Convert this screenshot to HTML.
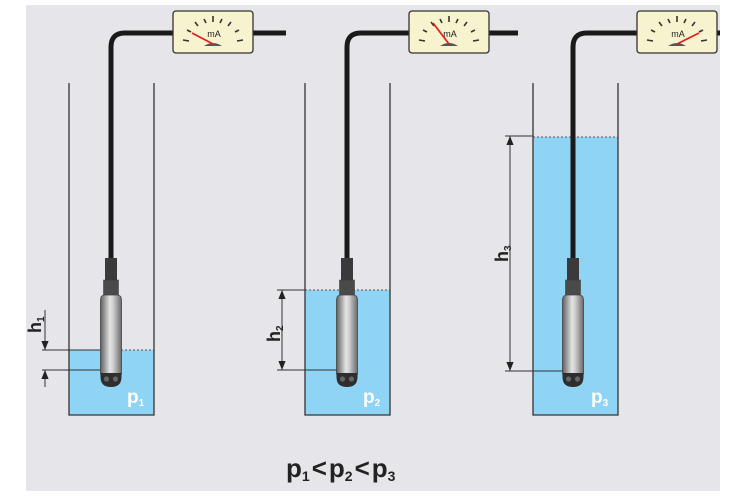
<!DOCTYPE html>
<html><head><meta charset="utf-8"><style>
html,body{margin:0;padding:0;background:#fff;}
svg{display:block;}
text{font-family:"Liberation Sans","DejaVu Sans",sans-serif;}
</style></head><body>
<svg width="750" height="500" viewBox="0 0 750 500" xmlns="http://www.w3.org/2000/svg">
<defs>
<linearGradient id="body" x1="0" x2="1" y1="0" y2="0">
<stop offset="0" stop-color="#5f5f5f"/><stop offset="0.45" stop-color="#e4e4e4"/><stop offset="0.6" stop-color="#cfcfcf"/><stop offset="1" stop-color="#6a6a6a"/>
</linearGradient>
<marker id="ar" viewBox="0 0 10 10" refX="10" refY="5" markerWidth="9" markerHeight="9" orient="auto-start-reverse"><path d="M0,1 L10,5 L0,9 z" fill="#222"/></marker>
<g id="probe">
<rect x="-6" y="258" width="12" height="24" fill="#3a3a3a"/>
<rect x="-7.5" y="280" width="15" height="16" fill="#4a4a4a" stroke="#333" stroke-width="0.5"/>
<path d="M-10.5,300 Q-10.5,295 -6,295 L6,295 Q10.5,295 10.5,300 L10.5,374 L-10.5,374 z" fill="url(#body)" stroke="#444" stroke-width="0.8"/>
<path d="M-10.5,373 L10.5,373 L10.5,377 Q10.5,387 0,387 Q-10.5,387 -10.5,377 z" fill="#2e2e2e"/>
<circle cx="-4.5" cy="379" r="2.6" fill="#666"/><circle cx="4.5" cy="379" r="2.6" fill="#666"/>
</g>
<g id="meterbox">
<rect x="0" y="0" width="80" height="42" rx="3" fill="#f7f3cf" stroke="#333" stroke-width="1.3"/>
<g stroke="#333" stroke-width="1.6">
<line x1="10" y1="29" x2="16" y2="30"/><line x1="14" y1="19" x2="18" y2="21"/><line x1="22" y1="11" x2="25" y2="15"/><line x1="31" y1="8" x2="33" y2="12"/><line x1="40" y1="5" x2="40" y2="11"/><line x1="49" y1="8" x2="47" y2="12"/><line x1="58" y1="11" x2="55" y2="15"/><line x1="66" y1="19" x2="62" y2="21"/><line x1="70" y1="29" x2="64" y2="30"/>
</g>
<text x="41" y="26" font-size="9" text-anchor="middle" fill="#222">mA</text>
<path d="M31,35 Q40,29 49,35 z" fill="#555"/>
</g>
</defs>
<rect x="26" y="5" width="694" height="486" fill="#e6e6ea"/>

<rect x="69" y="350" width="85" height="65" fill="#8fd4f5"/>
<rect x="305" y="290" width="85" height="125" fill="#8fd4f5"/>
<rect x="533" y="137" width="85" height="278" fill="#8fd4f5"/>
<g stroke="#555" stroke-width="1" stroke-dasharray="2,2">
<line x1="69" y1="350" x2="154" y2="350"/><line x1="305" y1="290" x2="390" y2="290"/><line x1="533" y1="137" x2="618" y2="137"/>
</g>

<g fill="none" stroke="#333" stroke-width="1.3">
<path d="M69,83 V415 H154 V83"/>
<path d="M305,83 V415 H390 V83"/>
<path d="M533,83 V415 H618 V83"/>
</g>

<g fill="none" stroke="#1a1a1a" stroke-width="5">
<path d="M111,260 V47 Q111,33 125,33 H175"/><line x1="252" y1="33" x2="286" y2="33"/>
<path d="M347,260 V47 Q347,33 361,33 H411"/><line x1="488" y1="33" x2="518" y2="33"/>
<path d="M573,260 V47 Q573,33 587,33 H640"/><line x1="716" y1="33" x2="720" y2="33"/>
</g>

<use href="#probe" transform="translate(111,0)"/>
<use href="#probe" transform="translate(347,0)"/>
<use href="#probe" transform="translate(573,0)"/>

<g transform="translate(173,11)"><use href="#meterbox"/><line x1="40" y1="33" x2="19" y2="22" stroke="#e02020" stroke-width="1.8"/></g>
<g transform="translate(409,11)"><use href="#meterbox"/><line x1="40" y1="33" x2="24" y2="12" stroke="#e02020" stroke-width="1.8"/></g>
<g transform="translate(637,11)"><use href="#meterbox"/><line x1="40" y1="33" x2="62" y2="22" stroke="#e02020" stroke-width="1.8"/></g>
<rect x="720" y="0" width="30" height="60" fill="#fff"/>

<g stroke="#333" stroke-width="1">
<line x1="42" y1="350" x2="100" y2="350"/><line x1="42" y1="370" x2="100" y2="370"/>
<line x1="45" y1="310" x2="45" y2="350" marker-end="url(#ar)"/><line x1="45" y1="387" x2="45" y2="370" marker-end="url(#ar)"/>
<line x1="277" y1="290" x2="305" y2="290"/><line x1="277" y1="370" x2="337" y2="370"/>
<line x1="282" y1="290" x2="282" y2="370" marker-start="url(#ar)" marker-end="url(#ar)"/>
<line x1="505" y1="136" x2="533" y2="136"/><line x1="505" y1="371" x2="563" y2="371"/>
<line x1="510" y1="136" x2="510" y2="371" marker-start="url(#ar)" marker-end="url(#ar)"/>
</g>
<g font-weight="bold" fill="#222" font-size="18">
<text transform="translate(41,333) rotate(-90)">h<tspan font-size="10" dy="3">1</tspan></text>
<text transform="translate(280,342) rotate(-90)">h<tspan font-size="10" dy="3">2</tspan></text>
<text transform="translate(508,262) rotate(-90)">h<tspan font-size="10" dy="3">3</tspan></text>
</g>
<g font-weight="bold" fill="#fff" font-size="19">
<text x="127" y="403">p<tspan font-size="10" dy="3">1</tspan></text>
<text x="363" y="403">p<tspan font-size="10" dy="3">2</tspan></text>
<text x="591" y="403">p<tspan font-size="10" dy="3">3</tspan></text>
</g>
<text x="286" y="477" font-size="26" font-weight="bold" fill="#222">p<tspan font-size="14" dy="4">1</tspan><tspan dy="-4" dx="2">&lt;</tspan><tspan dx="2">p</tspan><tspan font-size="14" dy="4">2</tspan><tspan dy="-4" dx="2">&lt;</tspan><tspan dx="2">p</tspan><tspan font-size="14" dy="4">3</tspan></text>
</svg>
</body></html>
